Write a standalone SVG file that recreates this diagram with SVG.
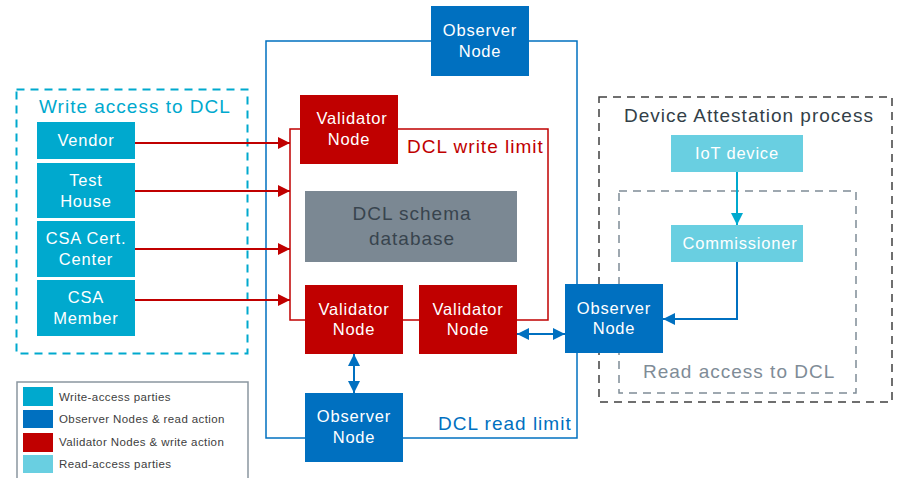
<svg xmlns="http://www.w3.org/2000/svg" width="897" height="478" viewBox="0 0 897 478">
  <style>
    text { font-family: "Liberation Sans", Arial, sans-serif; }
    .nt { fill: #ffffff; font-size: 16.5px; text-anchor: middle; letter-spacing: 0.8px; }
    .big { font-size: 19px; letter-spacing: 1px; }
    .wa { fill: #00a9ce; }
    .ob { fill: #0070c0; }
    .va { fill: #c00000; }
    .ra { fill: #69cfe1; }
    .lg { fill: #404040; font-size: 11.5px; letter-spacing: 0.4px; }
  </style>
  <defs>
    <marker id="arrRed" viewBox="0 0 10 10" refX="10" refY="5" markerWidth="12" markerHeight="12" markerUnits="userSpaceOnUse" orient="auto">
      <path d="M0,0 L10,5 L0,10 z" fill="#c00000"/>
    </marker>
    <marker id="arrBlue" viewBox="0 0 10 10" refX="10" refY="5" markerWidth="12" markerHeight="12" markerUnits="userSpaceOnUse" orient="auto-start-reverse">
      <path d="M0,0 L10,5 L0,10 z" fill="#0070c0"/>
    </marker>
    <marker id="arrCyan" viewBox="0 0 10 10" refX="10" refY="5" markerWidth="12" markerHeight="12" markerUnits="userSpaceOnUse" orient="auto">
      <path d="M0,0 L10,5 L0,10 z" fill="#00a9ce"/>
    </marker>
  </defs>

  <!-- boundaries -->
  <g id="boundaries" fill="none">
    <rect x="16.5" y="89.5" width="231" height="264" stroke="#00a9ce" stroke-width="2" stroke-dasharray="8,6"/>
    <text class="big" x="39" y="113" fill="#00a9ce" stroke="none">Write access to DCL</text>
    <rect x="266" y="41" width="311" height="397" stroke="#0070c0" stroke-width="1.5"/>
    <rect x="290" y="129" width="258" height="191" stroke="#c00000" stroke-width="1.5"/>
    <text class="big" x="407" y="153" fill="#c00000" stroke="none">DCL write limit</text>
    <text class="big" x="438" y="430" fill="#0070c0" stroke="none">DCL read limit</text>
    <rect x="599" y="97" width="293" height="305" stroke="#404040" stroke-width="1.5" stroke-dasharray="8,6"/>
    <text class="big" x="624" y="122" fill="#333f48" stroke="none" letter-spacing="0.8">Device Attestation process</text>
    <rect x="619" y="191" width="237" height="202" stroke="#7f8c97" stroke-width="1.5" stroke-dasharray="8,6"/>
    <text class="big" x="643" y="378" fill="#7f8c97" stroke="none">Read access to DCL</text>
  </g>

  <!-- connectors -->
  <g id="connectors" fill="none" stroke-width="2">
    <line x1="135" y1="143" x2="290" y2="143" stroke="#c00000" marker-end="url(#arrRed)"/>
    <line x1="135" y1="191" x2="290" y2="191" stroke="#c00000" marker-end="url(#arrRed)"/>
    <line x1="135" y1="249" x2="290" y2="249" stroke="#c00000" marker-end="url(#arrRed)"/>
    <line x1="135" y1="300" x2="290" y2="300" stroke="#c00000" marker-end="url(#arrRed)"/>
    <line x1="354" y1="354" x2="354" y2="393" stroke="#0070c0" marker-start="url(#arrBlue)" marker-end="url(#arrBlue)"/>
    <line x1="517" y1="334" x2="565" y2="334" stroke="#0070c0" marker-start="url(#arrBlue)" marker-end="url(#arrBlue)"/>
    <line x1="737" y1="172" x2="737" y2="225" stroke="#00a9ce" marker-end="url(#arrCyan)"/>
    <polyline points="737,262 737,319 663,319" stroke="#0070c0" marker-end="url(#arrBlue)"/>
  </g>

  <!-- write-access parties -->
  <g id="vendor"><rect class="wa" x="37" y="122" width="98" height="37"/><text class="nt" x="86" y="146">Vendor</text></g>
  <g id="test-house"><rect class="wa" x="37" y="163" width="98" height="55"/><text class="nt" x="86" y="186">Test</text><text class="nt" x="86" y="207">House</text></g>
  <g id="csa-cert-center"><rect class="wa" x="37" y="221" width="98" height="56"/><text class="nt" x="86" y="244">CSA Cert.</text><text class="nt" x="86" y="265">Center</text></g>
  <g id="csa-member"><rect class="wa" x="37" y="280" width="98" height="56"/><text class="nt" x="86" y="303">CSA</text><text class="nt" x="86" y="324">Member</text></g>

  <!-- DCL nodes -->
  <g id="observer-top"><rect class="ob" x="431" y="6" width="98" height="70"/><text class="nt" x="480" y="36">Observer</text><text class="nt" x="480" y="57">Node</text></g>
  <g id="validator-top"><rect class="va" x="300" y="95" width="98" height="69"/><text class="nt" x="352" y="124">Validator</text><text class="nt" x="349" y="145">Node</text></g>
  <g id="schema-db"><rect x="305" y="191" width="212" height="71" fill="#7b8893"/><text class="big" x="412" y="220" fill="#38444e" text-anchor="middle" letter-spacing="1.3">DCL schema</text><text class="big" x="412" y="245" fill="#38444e" text-anchor="middle" letter-spacing="1.3">database</text></g>
  <g id="validator-left"><rect class="va" x="305" y="285" width="98" height="69"/><text class="nt" x="354" y="315">Validator</text><text class="nt" x="354" y="335">Node</text></g>
  <g id="validator-right"><rect class="va" x="419" y="285" width="98" height="69"/><text class="nt" x="468" y="315">Validator</text><text class="nt" x="468" y="335">Node</text></g>
  <g id="observer-bottom"><rect class="ob" x="305" y="393" width="98" height="69"/><text class="nt" x="354" y="422">Observer</text><text class="nt" x="354" y="443">Node</text></g>
  <g id="observer-right"><rect class="ob" x="565" y="284" width="98" height="69"/><text class="nt" x="614" y="314">Observer</text><text class="nt" x="614" y="334">Node</text></g>

  <!-- read-access parties -->
  <g id="iot-device"><rect class="ra" x="671" y="135" width="132" height="37"/><text class="nt" x="737" y="159">IoT device</text></g>
  <g id="commissioner"><rect class="ra" x="671" y="225" width="132" height="37"/><text class="nt" x="740" y="249">Commissioner</text></g>

  <!-- legend -->
  <g id="legend">
    <path d="M17,478 L17,382 L248,382 L248,478" fill="none" stroke="#8a96a0" stroke-width="1.5"/>
    <rect class="wa" x="23" y="387" width="30" height="19"/><text class="lg" x="59" y="401">Write-access parties</text>
    <rect class="ob" x="23" y="410" width="30" height="18"/><text class="lg" x="59" y="423">Observer Nodes &amp; read action</text>
    <rect class="va" x="23" y="433" width="30" height="19"/><text class="lg" x="59" y="446">Validator Nodes &amp; write action</text>
    <rect class="ra" x="23" y="455" width="30" height="18"/><text class="lg" x="59" y="468">Read-access parties</text>
  </g>
</svg>
